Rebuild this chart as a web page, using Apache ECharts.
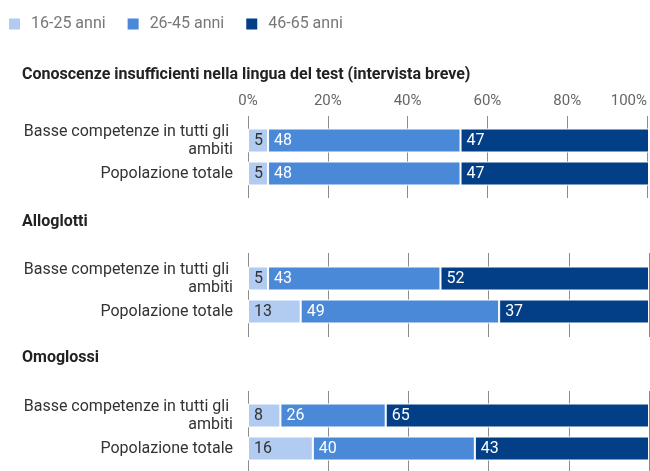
<!DOCTYPE html>
<html><head><meta charset="utf-8">
<script src="https://cdn.jsdelivr.net/npm/echarts@6/dist/echarts.min.js"></script>
<style>html,body{margin:0;padding:0;background:#fff}#c{width:650px;height:471px}</style>
</head><body><div id="c"></div>
<script>
const seriesNames = ['16-25 anni', '26-45 anni', '46-65 anni'];
const groupTitles = ['Conoscenze insufficienti nella lingua del test (intervista breve)', 'Alloglotti', 'Omoglossi'];
const categories = ['Basse competenze in tutti gli ambiti', 'Popolazione totale'];
// raw values per group: [Basse competenze, Popolazione totale]
const age16_25 = [[5, 5], [5, 13], [8, 16]];
const age26_45 = [[48, 48], [43, 49], [26, 40]];
const age46_65 = [[47, 47], [52, 37], [65, 43]];
const xTicks = [0, 20, 40, 60, 80, 100];

const colors = ['#b1cbf1', '#4a88d8', '#023f86'];
const labelColors = ['#333333', '#ffffff', '#ffffff'];
const ageData = [age16_25, age26_45, age46_65];

const barTops = [124, 262, 399];
const lineTops = [116, 253, 391];
const lineBottoms = [198, 337, 475];
const titleTops = [66, 213, 349];
const L = 248, R = 1;

const grid = [], xAxis = [], yAxis = [], series = [], title = [];
for (let g = 0; g < 3; g++) {
  grid.push({left: L, right: R, top: barTops[g], height: 66});
  xAxis.push({gridIndex: g, type: 'value', min: 0, max: 100, interval: 20, show: false});
  yAxis.push({gridIndex: g, type: 'category', inverse: true, data: categories,
    axisLine: {show: false}, axisTick: {show: false},
    axisLabel: {color: '#333', fontSize: 16, fontFamily: 'Roboto', width: 215, overflow: 'break', lineHeight: 18, margin: 15, align: 'right'}});
  title.push({text: groupTitles[g], left: 22, top: titleTops[g], padding: 0,
    textStyle: {fontFamily: 'Roboto', fontSize: 16, fontWeight: 'bold', color: '#222', lineHeight: 18}});
}
for (let g = 0; g < 3; g++) {
  const gi = 3 + g;
  grid.push({left: L, right: R, top: lineTops[g], bottom: 471 - lineBottoms[g]});
  xAxis.push({gridIndex: gi, type: 'value', min: 0, max: 100, interval: 20, position: 'top',
    axisLine: {show: false}, axisTick: {show: false},
    splitLine: {show: true, lineStyle: {color: '#8c8c8c', width: 1}},
    axisLabel: {show: g === 0, color: '#666', fontSize: 15, fontFamily: 'Roboto', margin: 7,
      formatter: v => v + '%', alignMaxLabel: 'right'}});
  yAxis.push({gridIndex: gi, type: 'value', min: 0, max: 1, show: false});
}
for (let g = 0; g < 3; g++) {
  const totals = categories.map((c, i) => ageData.reduce((s, a) => s + a[g][i], 0));
  for (let s = 0; s < 3; s++) {
    series.push({
      name: seriesNames[s], type: 'bar', stack: 'g' + g, xAxisIndex: g, yAxisIndex: g,
      barWidth: 24, color: colors[s],
      itemStyle: {borderColor: '#fff', borderWidth: 1},
      data: ageData[s][g].map((v, i) => ({value: v / totals[i] * 100, raw: v})),
      label: {show: true, position: 'insideLeft', distance: 6, color: labelColors[s],
        fontSize: 16, fontFamily: 'Roboto', formatter: p => p.data.raw},
      emphasis: {disabled: true}, animation: false
    });
  }
}

const chart = echarts.init(document.getElementById('c'));
chart.setOption({
  animation: false,
  title: title,
  legend: {left: 9, top: 16, padding: 0, itemWidth: 11, itemHeight: 11, itemGap: 22, icon: 'rect',
    data: seriesNames, selectedMode: false,
    itemStyle: {borderWidth: 0},
    textStyle: {color: '#777', fontSize: 16, fontFamily: 'Roboto', padding: [0, 0, 0, 6]}},
  grid: grid, xAxis: xAxis, yAxis: yAxis, series: series
});
</script></body></html>
